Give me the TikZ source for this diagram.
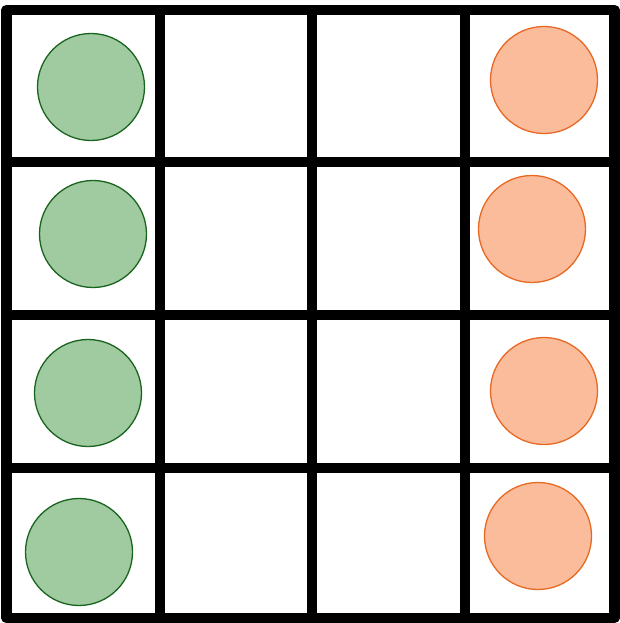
\documentclass[tikz,border=0pt]{standalone}
\definecolor{gfill}{RGB}{160,202,160}
\definecolor{gline}{RGB}{25,100,30}
\definecolor{ofill}{RGB}{250,188,155}
\definecolor{oline}{RGB}{232,105,35}
\begin{document}
\begin{tikzpicture}[x=1pt,y=-1pt,
  gridline/.style={line width=10.5pt,black},
  gdot/.style={circle,minimum size=107pt,inner sep=0pt,fill=gfill,draw=gline,line width=1.3pt},
  odot/.style={circle,minimum size=107pt,inner sep=0pt,fill=ofill,draw=oline,line width=1.3pt}]
\useasboundingbox[fill=white] (0,0) rectangle (619,623);
% circles
\node[gdot] (g1) at (91,87) {};
\node[gdot] (g2) at (93,234) {};
\node[gdot] (g3) at (88,393) {};
\node[gdot] (g4) at (79,552) {};
\node[odot] (o1) at (544,80) {};
\node[odot] (o2) at (532,229) {};
\node[odot] (o3) at (544,391) {};
\node[odot] (o4) at (538,536) {};
% grid
\draw[gridline,line cap=rect] (160,10) -- (160,618);
\draw[gridline,line cap=rect] (312,10) -- (312,618);
\draw[gridline,line cap=rect] (465,10) -- (465,618);
\draw[gridline,line cap=rect] (7,162) -- (615,162);
\draw[gridline,line cap=rect] (7,315) -- (615,315);
\draw[gridline,line cap=rect] (7,468) -- (615,468);
\draw[gridline,line join=round] (6.5,10) rectangle (614.5,618);
\end{tikzpicture}
\end{document}
